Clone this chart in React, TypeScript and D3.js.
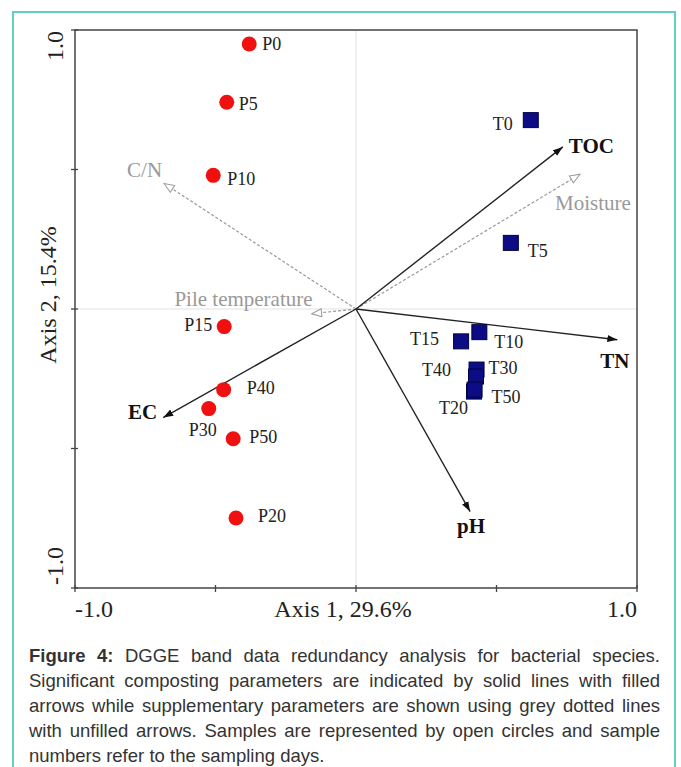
import React, { useEffect, useRef } from "react";
import * as d3 from "d3";

// sample scores (axis 1, axis 2)
const pSamples = ["P0", "P5", "P10", "P15", "P20", "P30", "P40", "P50"];
const pAxis1 = [-0.38, -0.46, -0.508, -0.469, -0.427, -0.524, -0.471, -0.437];
const pAxis2 = [0.95, 0.741, 0.479, -0.063, -0.749, -0.357, -0.289, -0.465];

const tSamples = ["T0", "T5", "T10", "T15", "T20", "T30", "T40", "T50"];
const tAxis1 = [0.622, 0.551, 0.439, 0.374, 0.42, 0.429, 0.427, 0.422];
const tAxis2 = [0.677, 0.237, -0.083, -0.116, -0.296, -0.217, -0.242, -0.289];

// significant parameters (solid arrows)
const envVars = ["TOC", "TN", "pH", "EC"];
const envAxis1 = [0.736, 0.93, 0.406, -0.686];
const envAxis2 = [0.581, -0.11, -0.726, -0.389];

// supplementary parameters (grey dotted arrows)
const suppVars = ["Moisture", "C/N", "Pile temperature"];
const suppAxis1 = [0.797, -0.683, -0.158];
const suppAxis2 = [0.483, 0.45, -0.017];

const tickValues = [-1, -0.5, 0, 0.5, 1];
const xTitle = "Axis 1, 29.6%";
const yTitle = "Axis 2, 15.4%";

const captionLines = [
  "Figure 4: DGGE band data redundancy analysis for bacterial species.",
  "Significant composting parameters are indicated by solid lines with filled",
  "arrows while supplementary parameters are shown using grey dotted lines",
  "with unfilled arrows. Samples are represented by open circles and sample",
  "numbers refer to the sampling days.",
];

// label placement (px offsets from the mark)
const labelPos: Record<string, [number, number, string]> = {
  P0: [13, 6, "start"],
  P5: [12, 8, "start"],
  P10: [14, 10, "start"],
  P15: [-12, 4, "end"],
  P20: [22, 4, "start"],
  P30: [-20, 27, "start"],
  P40: [23, 4, "start"],
  P50: [16, 4, "start"],
  T0: [-18, 10, "end"],
  T5: [17, 14, "start"],
  T10: [15, 16, "start"],
  T15: [-22, 4, "end"],
  T20: [-6, 22, "end"],
  T30: [12, 4, "start"],
  T40: [-25, -1, "end"],
  T50: [17, 13, "start"],
  TOC: [6, 6, "start"],
  TN: [-17, 28, "start"],
  pH: [-13, 21, "start"],
  EC: [-6, 1, "end"],
  Moisture: [-25, 36, "start"],
  "C/N": [-2, -6, "end"],
  "Pile temperature": [1, -8, "end"],
};

const W = 681;
const H = 767;
const serif = "'Liberation Serif', 'Times New Roman', serif";
const sans = "'Liberation Sans', Arial, sans-serif";

const App = () => {
  const svgRef = useRef<SVGSVGElement>(null);

  useEffect(() => {
    const svg = d3.select(svgRef.current);
    svg.selectAll("*").remove();

    const x = d3.scaleLinear().domain([-1, 1]).range([75, 637]);
    const y = d3.scaleLinear().domain([-1, 1]).range([588, 30]);

    // outer teal frame
    svg
      .append("rect")
      .attr("x", 13)
      .attr("y", 12)
      .attr("width", 662)
      .attr("height", H + 20)
      .attr("fill", "white")
      .attr("stroke", "#5fd0c3")
      .attr("stroke-width", 2);

    const defs = svg.append("defs");
    defs
      .append("marker")
      .attr("id", "filled")
      .attr("viewBox", "0 0 10 8")
      .attr("refX", 10)
      .attr("refY", 4)
      .attr("markerWidth", 10)
      .attr("markerHeight", 8)
      .attr("markerUnits", "userSpaceOnUse")
      .attr("orient", "auto")
      .append("path")
      .attr("d", "M0,0.5 L10,4 L0,7.5 Z")
      .attr("fill", "#111");
    defs
      .append("marker")
      .attr("id", "open")
      .attr("viewBox", "0 0 12 10")
      .attr("refX", 11)
      .attr("refY", 5)
      .attr("markerWidth", 12)
      .attr("markerHeight", 10)
      .attr("markerUnits", "userSpaceOnUse")
      .attr("orient", "auto")
      .append("path")
      .attr("d", "M1,1 L11,5 L1,9 Z")
      .attr("fill", "white")
      .attr("stroke", "#999")
      .attr("stroke-width", 1);

    // faint origin lines
    svg
      .append("line")
      .attr("x1", x(0))
      .attr("x2", x(0))
      .attr("y1", y(1))
      .attr("y2", y(-1))
      .attr("stroke", "#e2e2e2");
    svg
      .append("line")
      .attr("x1", x(-1))
      .attr("x2", x(1))
      .attr("y1", y(0))
      .attr("y2", y(0))
      .attr("stroke", "#e2e2e2");

    // plot frame
    svg
      .append("rect")
      .attr("x", x(-1))
      .attr("y", y(1))
      .attr("width", x(1) - x(-1))
      .attr("height", y(-1) - y(1))
      .attr("fill", "none")
      .attr("stroke", "#444")
      .attr("stroke-width", 1.5);

    // ticks
    svg
      .selectAll("line.xt")
      .data(tickValues)
      .join("line")
      .attr("class", "xt")
      .attr("x1", (d) => x(d))
      .attr("x2", (d) => x(d))
      .attr("y1", y(-1) - 3)
      .attr("y2", y(-1) + 4)
      .attr("stroke", "#444")
      .attr("stroke-width", 1.3);
    svg
      .selectAll("line.yt")
      .data(tickValues)
      .join("line")
      .attr("class", "yt")
      .attr("y1", (d) => y(d))
      .attr("y2", (d) => y(d))
      .attr("x1", x(-1) - 4)
      .attr("x2", x(-1) + 3)
      .attr("stroke", "#444")
      .attr("stroke-width", 1.3);

    // axis labels
    const axisText = svg
      .append("g")
      .style("font-family", serif)
      .style("font-size", "24px")
      .attr("fill", "#222");
    axisText.append("text").attr("x", 94).attr("y", 617).attr("text-anchor", "middle").text("-1.0");
    axisText.append("text").attr("x", 622).attr("y", 617).attr("text-anchor", "middle").text("1.0");
    axisText.append("text").attr("x", 343).attr("y", 617).attr("text-anchor", "middle").text(xTitle);
    axisText
      .append("text")
      .attr("transform", "translate(63,46) rotate(-90)")
      .attr("text-anchor", "middle")
      .text("1.0");
    axisText
      .append("text")
      .attr("transform", "translate(63,566) rotate(-90)")
      .attr("text-anchor", "middle")
      .text("-1.0");
    axisText
      .append("text")
      .attr("transform", "translate(56,295) rotate(-90)")
      .attr("text-anchor", "middle")
      .text(yTitle);

    // supplementary arrows
    suppVars.forEach((name, i) => {
      const tx = x(suppAxis1[i]);
      const ty = y(suppAxis2[i]);
      svg
        .append("line")
        .attr("x1", x(0))
        .attr("y1", y(0))
        .attr("x2", tx)
        .attr("y2", ty)
        .attr("stroke", "#999")
        .attr("stroke-width", 1.2)
        .attr("stroke-dasharray", "3,2")
        .attr("marker-end", "url(#open)");
      const [dx, dy, anchor] = labelPos[name];
      svg
        .append("text")
        .attr("x", tx + dx)
        .attr("y", ty + dy)
        .attr("text-anchor", anchor)
        .style("font-family", serif)
        .style("font-size", "21px")
        .attr("fill", "#999")
        .text(name);
    });

    // significant arrows
    envVars.forEach((name, i) => {
      const tx = x(envAxis1[i]);
      const ty = y(envAxis2[i]);
      svg
        .append("line")
        .attr("x1", x(0))
        .attr("y1", y(0))
        .attr("x2", tx)
        .attr("y2", ty)
        .attr("stroke", "#222")
        .attr("stroke-width", 1.4)
        .attr("marker-end", "url(#filled)");
      const [dx, dy, anchor] = labelPos[name];
      svg
        .append("text")
        .attr("x", tx + dx)
        .attr("y", ty + dy)
        .attr("text-anchor", anchor)
        .style("font-family", serif)
        .style("font-size", "21px")
        .style("font-weight", "bold")
        .attr("fill", "#111")
        .text(name);
    });

    // P samples
    const pData = pSamples.map((n, i) => ({ n, a: pAxis1[i], b: pAxis2[i] }));
    svg
      .selectAll("circle.p")
      .data(pData)
      .join("circle")
      .attr("class", "p")
      .attr("cx", (d) => x(d.a))
      .attr("cy", (d) => y(d.b))
      .attr("r", 7.5)
      .attr("fill", "#f01010");

    // T samples
    const tData = tSamples.map((n, i) => ({ n, a: tAxis1[i], b: tAxis2[i] }));
    svg
      .selectAll("rect.t")
      .data(tData)
      .join("rect")
      .attr("class", "t")
      .attr("x", (d) => x(d.a) - 7.5)
      .attr("y", (d) => y(d.b) - 7.5)
      .attr("width", 15)
      .attr("height", 15)
      .attr("fill", "#0c0c84")
      .attr("stroke", "#000045")
      .attr("stroke-width", 1);

    svg
      .selectAll("text.lab")
      .data([...pData, ...tData])
      .join("text")
      .attr("class", "lab")
      .attr("x", (d) => x(d.a) + labelPos[d.n][0])
      .attr("y", (d) => y(d.b) + labelPos[d.n][1])
      .attr("text-anchor", (d) => labelPos[d.n][2])
      .style("font-family", serif)
      .style("font-size", "18px")
      .attr("fill", "#222")
      .text((d) => d.n);

    // caption, justified word by word
    const left = 29;
    const right = 660;
    const cap = svg
      .append("g")
      .style("font-family", sans)
      .style("font-size", "18.5px")
      .attr("fill", "#333");
    captionLines.forEach((line, li) => {
      const words = line.split(" ");
      const base = 662 + li * 25;
      const nodes = words.map((w, wi) =>
        cap
          .append("text")
          .attr("y", base)
          .style("font-weight", li === 0 && wi < 2 ? "bold" : "normal")
          .text(w)
      );
      const widths = nodes.map((n) => (n.node() as SVGTextElement).getComputedTextLength());
      const total = d3.sum(widths);
      const last = li === captionLines.length - 1;
      const gap = last ? 5.2 : (right - left - total) / (words.length - 1);
      let cx = left;
      nodes.forEach((n, wi) => {
        n.attr("x", cx);
        cx += widths[wi] + gap;
      });
    });
  }, []);

  return (
    <svg
      ref={svgRef}
      width={W}
      height={H}
      style={{ position: "absolute", left: 0, top: 0, background: "white" }}
    ></svg>
  );
};

export default App;
